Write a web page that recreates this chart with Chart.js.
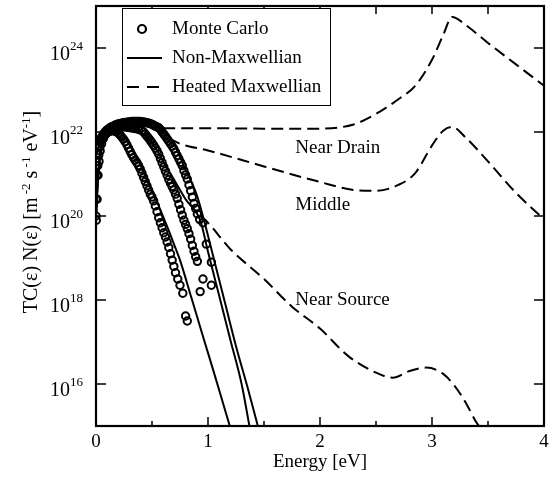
<!DOCTYPE html>
<html><head><meta charset="utf-8">
<script src="https://cdn.jsdelivr.net/npm/chart.js@4"></script>
<style>html,body{margin:0;padding:0;background:#fff}canvas{display:block}</style>
</head><body>
<canvas id="c" width="557" height="485"></canvas>
<script>
// ---------- data (log10 of TC(e)N(e)) ----------
const xMajorTicks = [0, 1, 2, 3, 4];
const xMinorTicks = [0.5, 1.5, 2.5, 3.5];
const yTickExponents = [16, 18, 20, 22, 24];

// Monte Carlo
const mcNearSourceE   = [0.000,0.008,0.016,0.025,0.035,0.05,0.065,0.08,0.095,0.11,0.125,0.14,0.155,0.17,0.185,0.2,0.215,0.23,0.245,0.26,0.275,0.29,0.305,0.32,0.335,0.35,0.365,0.38,0.395,0.41,0.425,0.44,0.455,0.47,0.485,0.5,0.515,0.53,0.545,0.56,0.575,0.59,0.605,0.62,0.635,0.65,0.665,0.68,0.695,0.71,0.73,0.75,0.775,0.8,0.815];
const mcNearSourceLog = [20.0,20.97,21.2,21.45,21.65,21.8,21.88,21.93,21.97,22.0,22.02,22.03,22.03,22.02,22.0,21.97,21.93,21.88,21.83,21.77,21.7,21.62,21.54,21.46,21.39,21.33,21.27,21.2,21.12,21.02,20.92,20.82,20.72,20.62,20.52,20.45,20.36,20.24,20.1,19.96,19.84,19.72,19.6,19.5,19.38,19.25,19.1,18.95,18.8,18.65,18.5,18.35,18.16,17.62,17.5];
const mcMiddleE   = [0.000,0.008,0.016,0.025,0.035,0.05,0.065,0.08,0.095,0.11,0.125,0.14,0.155,0.17,0.185,0.2,0.215,0.23,0.245,0.26,0.275,0.29,0.305,0.32,0.335,0.35,0.38,0.41,0.425,0.44,0.455,0.47,0.485,0.5,0.515,0.53,0.545,0.56,0.575,0.59,0.605,0.62,0.635,0.65,0.665,0.68,0.695,0.71,0.725,0.74,0.755,0.77,0.785,0.8,0.815,0.83,0.845,0.86,0.875,0.89,0.905,0.93,0.955];
const mcMiddleLog = [20.4,21.2,21.5,21.65,21.78,21.88,21.95,22.0,22.04,22.07,22.1,22.12,22.13,22.14,22.15,22.15,22.15,22.14,22.13,22.12,22.12,22.11,22.1,22.1,22.09,22.08,22.06,22.03,22.0,21.95,21.9,21.85,21.8,21.74,21.68,21.62,21.55,21.47,21.37,21.27,21.17,21.07,20.97,20.87,20.78,20.7,20.62,20.52,20.42,20.28,20.15,20.02,19.9,19.8,19.7,19.58,19.45,19.3,19.16,19.03,18.92,18.2,18.5];
const mcNearDrainE   = [0.003,0.010,0.018,0.027,0.037,0.05,0.065,0.08,0.095,0.11,0.125,0.14,0.155,0.17,0.185,0.2,0.215,0.23,0.245,0.26,0.275,0.29,0.305,0.32,0.335,0.35,0.365,0.38,0.395,0.41,0.425,0.44,0.455,0.47,0.485,0.5,0.515,0.53,0.545,0.56,0.575,0.59,0.605,0.62,0.635,0.65,0.665,0.68,0.695,0.71,0.725,0.74,0.755,0.77,0.785,0.8,0.815,0.83,0.845,0.86,0.875,0.89,0.905,0.925,0.955,0.985,1.03,1.03];
const mcNearDrainLog = [19.9,20.4,20.97,21.3,21.55,21.72,21.84,21.93,22.0,22.05,22.09,22.12,22.14,22.16,22.18,22.19,22.2,22.21,22.22,22.23,22.23,22.24,22.24,22.25,22.25,22.25,22.25,22.25,22.25,22.24,22.24,22.23,22.22,22.21,22.2,22.18,22.16,22.14,22.12,22.1,22.06,22.0,21.95,21.9,21.84,21.78,21.72,21.66,21.6,21.52,21.44,21.36,21.28,21.2,21.08,20.98,20.88,20.74,20.6,20.45,20.3,20.18,20.05,19.92,19.84,19.33,18.9,18.35];

// Non-Maxwellian
const nmNearSourceE   = [0,0.02,0.05,0.1,0.15,0.2,0.25,0.3,0.35,0.4,0.45,0.5,0.55,0.6,0.65,0.7,0.75,0.85,0.95,1.05,1.15,1.2];
const nmNearSourceLog = [20.0,21.0,21.6,21.9,22.0,22.0,21.9,21.7,21.45,21.2,20.9,20.6,20.3,19.98,19.65,19.3,18.95,18.07,17.18,16.3,15.4,14.95];
const nmMiddleE   = [0,0.02,0.05,0.1,0.2,0.3,0.4,0.5,0.6,0.7,0.8,0.93,1.0,1.1,1.2,1.3,1.37];
const nmMiddleLog = [20.0,21.0,21.7,21.95,22.1,22.1,22.0,21.75,21.3,20.85,20.4,19.9,19.15,18.1,17.05,16.0,15.0];
const nmNearDrainE   = [0,0.02,0.05,0.1,0.2,0.3,0.4,0.5,0.6,0.7,0.8,0.9,0.97,1.05,1.15,1.25,1.35,1.45];
const nmNearDrainLog = [20.0,21.0,21.7,22.0,22.2,22.25,22.25,22.2,22.05,21.7,21.1,20.5,19.84,19.0,17.95,16.9,15.95,14.95];

// Heated Maxwellian
const hmNearDrainE   = [0.6,1.0,1.5,2.0,2.3,2.5,2.7,2.85,3.0,3.1,3.18,3.3,3.5,3.75,4.0];
const hmNearDrainLog = [22.09,22.09,22.08,22.08,22.18,22.43,22.78,23.1,23.72,24.31,24.74,24.55,24.12,23.61,23.1];
const hmMiddleE   = [0.65,0.75,1.0,1.5,2.0,2.3,2.5,2.7,2.85,3.0,3.1,3.18,3.3,3.5,3.75,4.0];
const hmMiddleLog = [21.85,21.72,21.56,21.18,20.81,20.62,20.6,20.74,21.02,21.68,22.03,22.12,21.87,21.3,20.55,19.92];
const hmNearSourceE   = [0.93,0.985,1.2,1.5,1.75,2.0,2.25,2.5,2.65,2.8,2.95,3.1,3.2,3.3,3.4,3.45];
const hmNearSourceLog = [20.0,19.88,19.21,18.5,17.84,17.32,16.67,16.27,16.15,16.31,16.39,16.24,15.96,15.56,15.07,14.9];

const curveLabels = [
  {text: 'Near Drain', e: 1.78, log: 21.62},
  {text: 'Middle', e: 1.78, log: 20.25},
  {text: 'Near Source', e: 1.78, log: 18.0}
];

// ---------- helpers ----------
const pts = (E, L) => E.map((e, i) => ({x: e, y: Math.pow(10, L[i])}));
const FONT = '"Liberation Serif", "Times New Roman", Times, serif';
const DASH = [12, 6];

const lineDS = (label, E, L, dash) => ({
  label, data: pts(E, L), showLine: true, borderColor: '#000', borderWidth: 2,
  borderDash: dash, pointRadius: 0, fill: false, tension: 0.35, cubicInterpolationMode: 'monotone'
});
const mcDS = (label, E, L) => ({
  label, data: pts(E, L), showLine: false, borderColor: '#000', backgroundColor: 'rgba(0,0,0,0)',
  borderWidth: 2, pointRadius: 3.7, pointStyle: 'circle'
});

const frame = {
  id: 'frame',
  afterDraw(chart) {
    const {ctx, chartArea: a, scales: {x, y}} = chart;
    ctx.save();
    ctx.strokeStyle = '#000';
    ctx.lineWidth = 1.5;
    ctx.beginPath();
    xMajorTicks.forEach(v => {
      const p = x.getPixelForValue(v);
      ctx.moveTo(p, a.bottom); ctx.lineTo(p, a.bottom - 9);
      ctx.moveTo(p, a.top); ctx.lineTo(p, a.top + 8);
    });
    xMinorTicks.forEach(v => {
      const p = x.getPixelForValue(v);
      ctx.moveTo(p, a.bottom); ctx.lineTo(p, a.bottom - 5);
      ctx.moveTo(p, a.top); ctx.lineTo(p, a.top + 8);
    });
    yTickExponents.forEach(k => {
      const p = y.getPixelForValue(Math.pow(10, k));
      ctx.moveTo(a.left, p); ctx.lineTo(a.left + 10, p);
      ctx.moveTo(a.right, p); ctx.lineTo(a.right - 10, p);
    });
    ctx.stroke();
    ctx.lineWidth = 2.2;
    ctx.strokeRect(a.left, a.top, a.right - a.left, a.bottom - a.top);

    ctx.fillStyle = '#000';
    // x tick labels
    ctx.font = '19px ' + FONT;
    ctx.textAlign = 'center'; ctx.textBaseline = 'middle';
    xMajorTicks.forEach(v => ctx.fillText(String(v), x.getPixelForValue(v), a.bottom + 16));
    ctx.fillText('Energy [eV]', (a.left + a.right) / 2, a.bottom + 36);
    // y tick labels 10^k
    yTickExponents.forEach(k => {
      const p = y.getPixelForValue(Math.pow(10, k));
      ctx.font = '13px ' + FONT;
      ctx.textAlign = 'right'; ctx.textBaseline = 'alphabetic';
      const supW = ctx.measureText(String(k)).width;
      const right = a.left - 13;
      ctx.fillText(String(k), right, p + 2);
      ctx.font = '20px ' + FONT;
      ctx.fillText('10', right - supW, p + 12);
    });
    // y title
    ctx.save();
    ctx.translate(31, 212);
    ctx.rotate(-Math.PI / 2);
    const parts = [['TC(ε) N(ε) [m', 0], [' -2', 1], [' s', 0], [' -1', 1], [' eV', 0], ['-1', 1], [']', 0]];
    let total = 0;
    parts.forEach(([t, s]) => { ctx.font = (s ? '13px ' : '20px ') + FONT; total += ctx.measureText(t).width; });
    let cx = -total / 2;
    ctx.textAlign = 'left'; ctx.textBaseline = 'alphabetic';
    parts.forEach(([t, s]) => {
      ctx.font = (s ? '13px ' : '20px ') + FONT;
      ctx.fillText(t, cx, s ? -1 : 6);
      cx += ctx.measureText(t).width;
    });
    ctx.restore();

    // curve labels
    ctx.font = '19px ' + FONT;
    ctx.textAlign = 'left'; ctx.textBaseline = 'middle';
    curveLabels.forEach(l => ctx.fillText(l.text, x.getPixelForValue(l.e), y.getPixelForValue(Math.pow(10, l.log))));

    // legend
    const L = 122, T = 8, R = 330, B = 105;
    ctx.fillStyle = '#fff';
    ctx.fillRect(L, T, R - L, B - T);
    ctx.strokeStyle = '#000'; ctx.lineWidth = 1;
    ctx.strokeRect(L + 0.5, T + 0.5, R - L, B - T);
    ctx.fillStyle = '#000';
    const rows = [29, 58, 87];
    ctx.lineWidth = 2.2;
    ctx.beginPath(); ctx.arc(142, rows[0], 4, 0, Math.PI * 2); ctx.stroke();
    ctx.lineWidth = 2;
    ctx.beginPath(); ctx.moveTo(127, rows[1]); ctx.lineTo(162, rows[1]); ctx.stroke();
    ctx.setLineDash([12, 8]);
    ctx.beginPath(); ctx.moveTo(127, rows[2]); ctx.lineTo(160, rows[2]); ctx.stroke();
    ctx.setLineDash([]);
    ctx.font = '19px ' + FONT;
    ctx.textAlign = 'left'; ctx.textBaseline = 'middle';
    ['Monte Carlo', 'Non-Maxwellian', 'Heated Maxwellian'].forEach((t, i) => ctx.fillText(t, 172, rows[i]));
    ctx.restore();
  }
};

new Chart(document.getElementById('c'), {
  type: 'scatter',
  data: {
    datasets: [
      lineDS('Non-Maxwellian Near Source', nmNearSourceE, nmNearSourceLog, []),
      lineDS('Non-Maxwellian Middle', nmMiddleE, nmMiddleLog, []),
      lineDS('Non-Maxwellian Near Drain', nmNearDrainE, nmNearDrainLog, []),
      lineDS('Heated Maxwellian Near Drain', hmNearDrainE, hmNearDrainLog, DASH),
      lineDS('Heated Maxwellian Middle', hmMiddleE, hmMiddleLog, DASH),
      lineDS('Heated Maxwellian Near Source', hmNearSourceE, hmNearSourceLog, DASH),
      mcDS('Monte Carlo Near Source', mcNearSourceE, mcNearSourceLog),
      mcDS('Monte Carlo Middle', mcMiddleE, mcMiddleLog),
      mcDS('Monte Carlo Near Drain', mcNearDrainE, mcNearDrainLog)
    ]
  },
  options: {
    responsive: false, animation: false, devicePixelRatio: 1,
    layout: {padding: {top: 2, right: 13, left: 0, bottom: 0}},
    plugins: {legend: {display: false}, tooltip: {enabled: false}},
    scales: {
      x: {
        type: 'linear', min: 0, max: 4,
        grid: {display: false}, border: {display: false}, ticks: {display: false},
        afterFit: s => { s.height = 59; }
      },
      y: {
        type: 'logarithmic', min: 1e15, max: 1e25,
        grid: {display: false}, border: {display: false}, ticks: {display: false},
        afterFit: s => { s.width = 96; }
      }
    }
  },
  plugins: [frame]
});
</script></body></html>
